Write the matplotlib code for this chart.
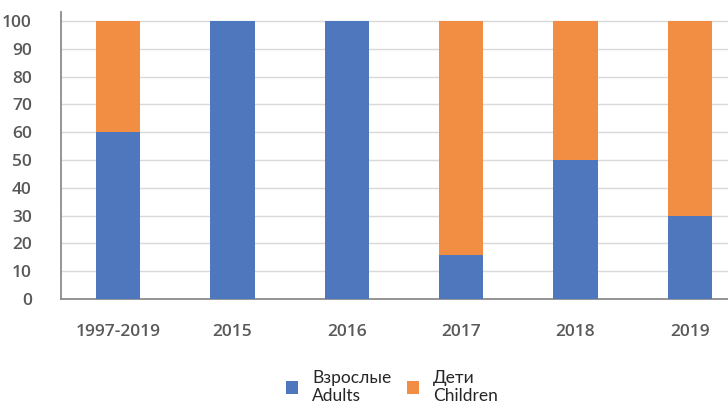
import matplotlib
matplotlib.use("Agg")
import matplotlib.pyplot as plt
from matplotlib.patches import Patch
import numpy as np

categories = ["1997-2019", "2015", "2016", "2017", "2018", "2019"]
adults = [60, 100, 100, 16, 50, 30]
children = [40, 0, 0, 84, 50, 70]
series_labels = ["Взрослые\nAdults", "Дети\nChildren"]
yticks = [0, 10, 20, 30, 40, 50, 60, 70, 80, 90, 100]

blue = "#4F77BD"
orange = "#F28E43"
tick_color = "#595959"

fig = plt.figure(figsize=(7.28, 4.08), dpi=100)
ax = fig.add_axes([61 / 728, 109 / 408, 686 / 728, 287 / 408])

x = np.arange(len(categories))
w = 0.39
ax.bar(x, adults, width=w, color=blue, zorder=3)
ax.bar(x, children, width=w, bottom=adults, color=orange, zorder=3)

ax.set_xlim(-0.5, len(categories) - 0.5)
ax.set_ylim(0, 103.2)
ax.set_yticks(yticks)
ax.set_xticks(x)
ax.set_xticklabels(categories)
ax.yaxis.grid(True, color="#D9D9D9", linewidth=1.0, zorder=0)
ax.set_axisbelow(True)

for s in ["top", "right"]:
    ax.spines[s].set_visible(False)
ax.spines["left"].set_color("#8C8C8C")
ax.spines["left"].set_linewidth(1.3)
ax.spines["bottom"].set_color("#8C8C8C")
ax.spines["bottom"].set_linewidth(1.3)
ax.tick_params(axis="both", length=0, colors=tick_color)
ax.tick_params(axis="y", pad=21)
ax.tick_params(axis="x", pad=18)
for lab in ax.get_xticklabels() + ax.get_yticklabels():
    lab.set_fontfamily(["Open Sans", "DejaVu Sans"])
    lab.set_fontweight("semibold")
    lab.set_fontsize(12.5)
    lab.set_color(tick_color)

handles = [Patch(facecolor=blue), Patch(facecolor=orange)]
leg = fig.legend(handles, series_labels, loc="center", ncol=2,
                 bbox_to_anchor=(0.5 * (284 + 500) / 728, (408 - 387) / 408),
                 frameon=False, handlelength=0.7, handleheight=0.7,
                 handletextpad=0.8, columnspacing=0.9,
                 prop={"family": ["Lato", "DejaVu Sans"], "size": 12.5})
for t in leg.get_texts():
    t.set_color("#262626")
    t.set_linespacing(1.2)

fig.savefig("out.png", dpi=100)
